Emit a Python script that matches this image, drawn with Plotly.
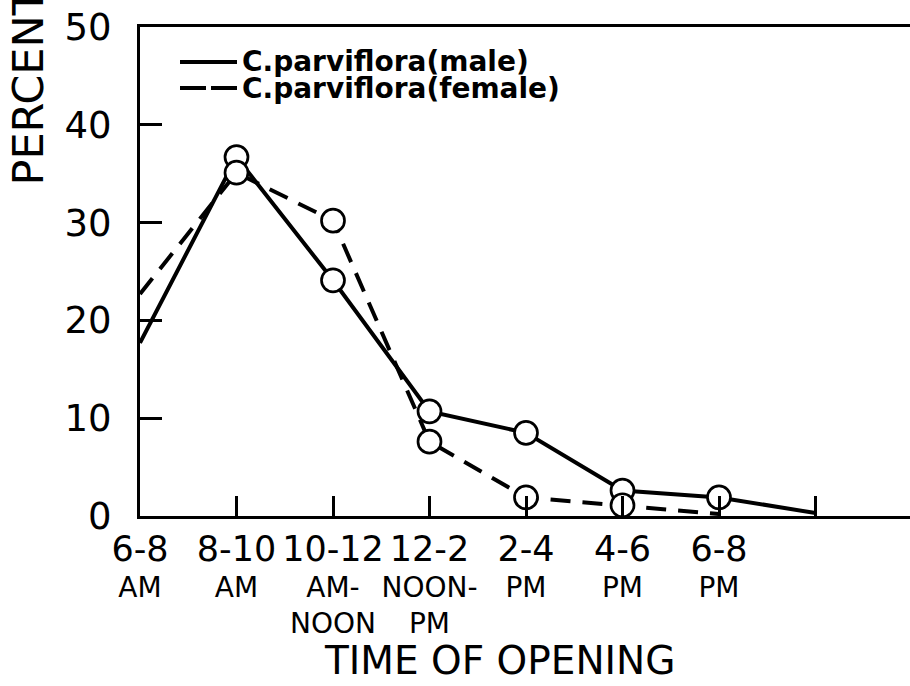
import plotly.graph_objects as go

# ---- data ----
tick_main = ["6-8", "8-10", "10-12", "12-2", "2-4", "4-6", "6-8", ""]
tick_sub = ["AM", "AM", "AM-<br>NOON", "NOON-<br>PM", "PM", "PM", "PM", ""]
x_pos = [0, 1, 2, 3, 4, 5, 6, 7]

male_pct = [17.7, 36.7, 24.1, 10.7, 8.5, 2.6, 1.9, 0.3]
female_pct = [22.7, 35.1, 30.2, 7.6, 1.9, 1.1, 0.2]

male_marker_idx = [1, 2, 3, 4, 5, 6]
female_marker_idx = [1, 2, 3, 4, 5]

y_ticks = [0, 10, 20, 30, 40, 50]

series_names = ["C.parviflora(male)", "C.parviflora(female)"]

FONT = "DejaVu Sans"
BLACK = "black"

ticktext = []
for m, s in zip(tick_main, tick_sub):
    if m:
        ticktext.append('<span style="font-size:35px">' + m + '</span><br>' + s)
    else:
        ticktext.append("")

fig = go.Figure()

fig.add_trace(go.Scatter(x=x_pos[:len(male_pct)], y=male_pct, mode="lines",
                         line=dict(color=BLACK, width=4), showlegend=False,
                         name=series_names[0]))
fig.add_trace(go.Scatter(x=x_pos[:len(female_pct)], y=female_pct, mode="lines",
                         line=dict(color=BLACK, width=4, dash="20px,12px"),
                         showlegend=False, name=series_names[1]))

marker_style = dict(symbol="circle", size=23, color="white",
                    line=dict(color=BLACK, width=2.7))
fig.add_trace(go.Scatter(x=[x_pos[i] for i in male_marker_idx],
                         y=[male_pct[i] for i in male_marker_idx],
                         mode="markers", marker=marker_style, showlegend=False,
                         name=series_names[0]))
fig.add_trace(go.Scatter(x=[x_pos[i] for i in female_marker_idx],
                         y=[female_pct[i] for i in female_marker_idx],
                         mode="markers", marker=marker_style, showlegend=False,
                         name=series_names[1]))

L, T, B = 140, 27, 170
W, H = 910, 686
pw, ph = W - L, H - T - B

def px_x(p):
    return (p - L) / pw

def px_y(p):
    return (H - B - p) / ph

# manual legend
legend_rows = [(62, "solid"), (88, "26px,5px")]
for (yy, dash), name in zip(legend_rows, series_names):
    fig.add_shape(type="line", xref="paper", yref="paper",
                  x0=px_x(180), x1=px_x(237), y0=px_y(yy), y1=px_y(yy),
                  line=dict(color=BLACK, width=4, dash=dash))
    fig.add_annotation(xref="paper", yref="paper", x=px_x(240), y=px_y(yy),
                       xanchor="left", yanchor="middle", showarrow=False,
                       text="<b>" + name + "</b>",
                       font=dict(family=FONT, size=28, color=BLACK))

# axis titles
fig.add_annotation(xref="paper", yref="paper", x=px_x(27), y=px_y(188),
                   xanchor="center", yanchor="bottom", textangle=-90,
                   showarrow=False, text="PERCENT",
                   font=dict(family=FONT, size=43, color=BLACK))
fig.add_annotation(xref="paper", yref="paper", x=px_x(499), y=px_y(636),
                   xanchor="center", yanchor="top", showarrow=False,
                   text="TIME OF OPENING",
                   font=dict(family=FONT, size=39, color=BLACK))

fig.update_layout(
    width=W, height=H,
    margin=dict(l=L, r=0, t=T, b=B, pad=0, autoexpand=False),
    paper_bgcolor="white", plot_bgcolor="white",
    showlegend=False,
    font=dict(family=FONT, color=BLACK),
)
fig.update_xaxes(range=[0, (W - L) / 96.5], tickmode="array", tickvals=x_pos,
                 ticktext=ticktext, ticks="inside", ticklen=20, tickwidth=3,
                 tickcolor=BLACK, showline=True, linewidth=3, linecolor=BLACK,
                 mirror=True, showgrid=False, zeroline=False, tickangle=0,
                 automargin=False,
                 tickfont=dict(family=FONT, size=28, color=BLACK),
                 ticklabelstandoff=8)
fig.update_yaxes(range=[0, 50], tickmode="array", tickvals=y_ticks,
                 ticks="inside", ticklen=22, tickwidth=3, tickcolor=BLACK,
                 showline=True, linewidth=3, linecolor=BLACK, showgrid=False,
                 zeroline=False, automargin=False,
                 tickfont=dict(family=FONT, size=37, color=BLACK),
                 ticklabelstandoff=18)

fig.write_html("out.html", config={"displayModeBar": False},
               post_script="document.body.style.margin='0';")
